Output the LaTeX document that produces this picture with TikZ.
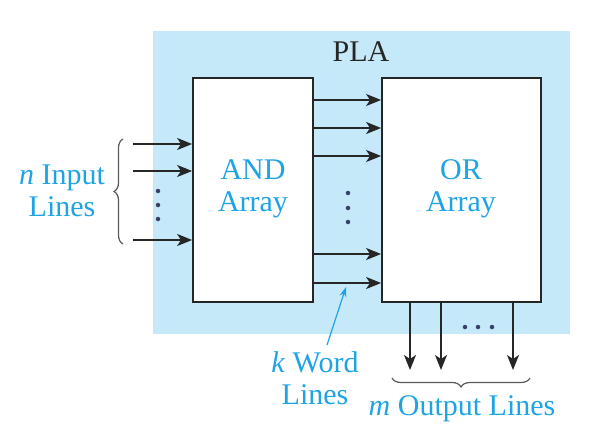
\documentclass[tikz,border=0pt]{standalone}
\usepackage{fontspec}
\setmainfont{Liberation Serif}
\usetikzlibrary{arrows.meta,decorations.pathreplacing}
\definecolor{plabg}{HTML}{C6E9FA}
\definecolor{txtblue}{HTML}{1EA3E4}
\definecolor{boxline}{HTML}{262626}
\definecolor{dotcol}{HTML}{3A3F6A}
\tikzset{
  box/.style={draw=boxline, line width=1.8pt, fill=white, inner sep=0pt},
  lbl/.style={text=txtblue, align=center, font=\fontsize{30}{32}\selectfont},
  sig/.style={draw=boxline, line width=1.8pt, -{Stealth[length=15pt,width=12pt,inset=4pt]}},
  brc/.style={draw=gray!70!black, line width=1.2pt, decorate, decoration={brace, amplitude=9pt}},
  dotmark/.style={circle, fill=dotcol, inner sep=0pt, minimum size=4.5pt}
}
\begin{document}
\begin{tikzpicture}[x=1pt,y=-1pt]
\useasboundingbox (0,0) rectangle (595,434);
% background
\node[fill=plabg, minimum width=417pt, minimum height=303pt, inner sep=0pt] (pla) at (361.5,182.5) {};
\node[font=\fontsize{30}{32}\selectfont, text=black!85] (plat) at (361,52) {PLA};
% boxes
\node[box, minimum width=120pt, minimum height=224pt] (and) at (253,190) {};
\node[lbl] (andt) at (253,189) {AND\\Array};
\node[box, minimum width=159pt, minimum height=224pt] (or) at (461.5,190) {};
\node[lbl] (ort) at (461,189) {OR\\Array};
% inputs
\coordinate (i1) at (133,144);
\coordinate (i2) at (133,171);
\coordinate (i3) at (133,240);
\foreach \c in {i1,i2,i3} \draw[sig] (\c) -- (and.west |- \c);
\node[dotmark] (id1) at (158,191) {};
\node[dotmark] (id2) at (158,205) {};
\node[dotmark] (id3) at (158,219) {};
\draw[brc] (123,244) -- (123,139);
\node[lbl] (inl) at (62,191) {\textit{n} Input\\Lines};
% word lines
\foreach \y [count=\i] in {100,128,156,254,283} {
  \coordinate (w\i) at (313,\y);
  \draw[sig] (and.east |- w\i) -- (or.west |- w\i);
}
\node[dotmark] (wd1) at (348,193) {};
\node[dotmark] (wd2) at (348,208) {};
\node[dotmark] (wd3) at (348,222) {};
\node[lbl] (kwl) at (315,378) {\textit{k} Word\\Lines};
\coordinate (kt) at (346,287);
\draw[draw=txtblue, line width=1.2pt, -{Stealth[length=10pt,width=7pt]}] (327,345) -- (kt);
% outputs
\coordinate (o1) at (410,370);
\coordinate (o2) at (441,370);
\coordinate (o3) at (513,370);
\foreach \c in {o1,o2,o3} \draw[sig] (or.south -| \c) -- (\c);
\node[dotmark] (od1) at (465,327) {};
\node[dotmark] (od2) at (478,327) {};
\node[dotmark] (od3) at (492,327) {};
\draw[brc] (530,378) -- (392,378);
\node[lbl] (outl) at (462,409) {\textit{m} Output Lines};
\end{tikzpicture}
\end{document}
